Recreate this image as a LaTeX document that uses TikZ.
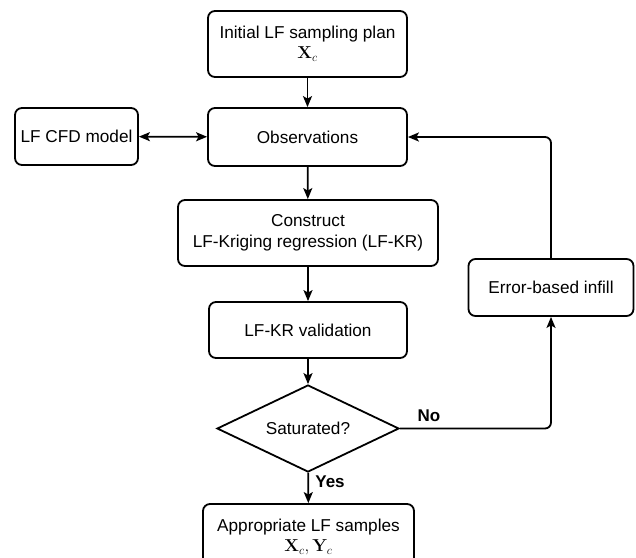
\documentclass[tikz,border=0pt]{standalone}
\usepackage[no-math]{fontspec}
\setmainfont{Liberation Sans}
\usetikzlibrary{shapes.geometric,arrows.meta}
\begin{document}
\begin{tikzpicture}[x=1pt,y=-1pt,
  box/.style={draw,line width=1.8pt,rounded corners=7pt,align=center,inner sep=0pt,
    font=\fontsize{17.2}{21}\selectfont},
  dia/.style={draw,line width=1.8pt,diamond,inner sep=0pt,aspect=2.09,
    minimum width=182pt,minimum height=87pt,font=\fontsize{17.2}{21}\selectfont},
  tip/.style={Stealth[length=11pt,width=9pt,inset=2.5pt]},
  arr/.style={line width=1.8pt,-{Stealth[length=11pt,width=9pt,inset=2.5pt]}},
  lab/.style={font=\fontsize{17}{20}\selectfont\bfseries}]
\useasboundingbox (0,0) rectangle (636,557);
\node[box,minimum width=199pt,minimum height=66pt] (init) at (307.5,44) {Initial LF sampling plan\\[-1pt]$\mathbf{X}_c$};
\node[box,minimum width=199pt,minimum height=58pt] (obs) at (307.5,137) {Observations};
\node[box,minimum width=123pt,minimum height=57pt] (cfd) at (76.5,136.5) {LF CFD model};
\node[box,minimum width=260pt,minimum height=66pt] (kr) at (308,233) {Construct\\LF-Kriging regression (LF-KR)};
\node[box,minimum width=198pt,minimum height=56pt] (val) at (308,330) {LF-KR validation};
\node[dia] (sat) at (308,428.5) {Saturated?};
\node[box,minimum width=165pt,minimum height=57pt] (err) at (551,287.5) {Error-based infill};
\node[box,minimum width=211pt,minimum height=66pt] (fin) at (308.5,537) {Appropriate LF samples\\[-1pt]$\mathbf{X}_c,\mathbf{Y}_c$};
\draw[arr] (init) -- (obs);
\draw[arr] (obs) -- (kr);
\draw[arr] (kr) -- (val);
\draw[arr] (val) -- (sat);
\draw[arr] (sat) -- (fin);
\draw[line width=1.8pt,{Stealth[length=11pt,width=9pt,inset=2.5pt]}-{Stealth[length=11pt,width=9pt,inset=2.5pt]}] (cfd) -- (obs);
\draw[arr,rounded corners=6pt] (sat.east) -| (err.south);
\draw[arr,rounded corners=6pt] (err.north) |- (obs.east);
\node[lab] (no) at (429,416) {No};
\node[lab] (yes) at (330,482) {Yes};
\end{tikzpicture}
\end{document}
